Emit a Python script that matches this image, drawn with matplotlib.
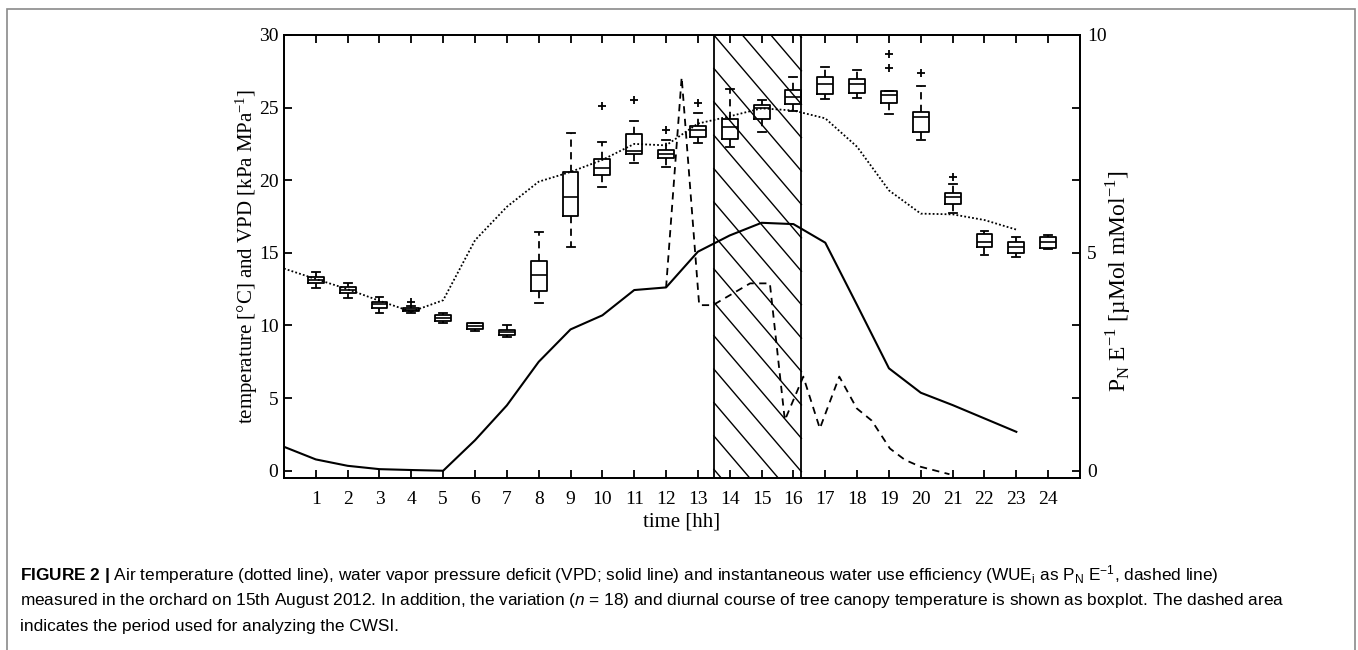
import numpy as np
import matplotlib
matplotlib.use("Agg")
import matplotlib.pyplot as plt
from matplotlib.patches import Rectangle

plt.rcParams["font.family"] = "Liberation Serif"
plt.rcParams["mathtext.fontset"] = "custom"
plt.rcParams["mathtext.rm"] = "Liberation Serif"
plt.rcParams["mathtext.sf"] = "Liberation Sans"
plt.rcParams["mathtext.bf"] = "Liberation Sans:bold"
plt.rcParams["mathtext.it"] = "Liberation Sans:italic"

# hourly air temperature (dotted) and VPD (solid), left axis
hours = np.arange(0, 24)
air_temp = [13.92, 13.2, 12.5, 11.7, 10.95, 11.74, 15.87, 18.17, 19.9, 20.57, 21.4, 22.5,
            22.4, 23.9, 24.4, 24.95, 24.8, 24.26, 22.3, 19.3, 17.7, 17.65, 17.26, 16.6]
vpd = [1.65, 0.78, 0.34, 0.11, 0.05, 0.0, 2.1, 4.5, 7.5, 9.73, 10.7, 12.44,
       12.62, 15.08, 16.2, 17.07, 16.98, 15.7, 11.4, 7.05, 5.37, 4.52, 3.6, 2.68]

# WUE_i (dashed), right axis
wue_time = [12.0, 12.49, 13.04, 13.47, 14.64, 15.26, 15.73, 16.31, 16.83, 17.44,
            17.99, 18.46, 19.03, 19.5, 20.0, 20.9]
wue = [4.2, 9.03, 3.8, 3.8, 4.3, 4.3, 1.16, 2.16, 0.97, 2.16,
       1.43, 1.15, 0.51, 0.25, 0.09, -0.08]

# canopy temperature boxplots (n = 18), hour 1..24
box_hours = np.arange(1, 25)
box_q1 = [12.94, 12.21, 11.18, 11.0, 10.33, 9.73, 9.34, 12.37, 17.53, 20.36, 21.78, 21.55,
          22.96, 22.84, 24.2, 25.25, 25.92, 25.98, 25.34, 23.34, 18.36, 15.38, 14.96, 15.31]
box_med = [13.15, 12.45, 11.45, 11.1, 10.5, 9.95, 9.55, 13.47, 18.86, 20.86, 22.03, 21.8,
           23.46, 23.64, 24.95, 25.75, 26.6, 26.62, 25.87, 24.33, 18.87, 15.77, 15.38, 15.77]
box_q3 = [13.35, 12.62, 11.63, 11.2, 10.72, 10.14, 9.68, 14.46, 20.54, 21.44, 23.2, 22.05,
          23.73, 24.2, 25.2, 26.2, 27.13, 26.95, 26.14, 24.72, 19.1, 16.3, 15.77, 16.07]
box_lo = [12.6, 11.9, 10.85, 10.85, 10.18, 9.62, 9.18, 11.57, 15.42, 19.55, 21.2, 20.93,
          22.58, 22.27, 23.34, 24.79, 25.57, 25.64, 24.56, 22.77, 17.72, 14.85, 14.69, 15.24]
box_hi = [13.7, 12.94, 11.97, 11.35, 10.87, 10.2, 10.03, 16.45, 23.23, 22.65, 24.1, 22.76,
          24.65, 26.26, 25.5, 27.08, 27.8, 27.59, 26.14, 26.51, 19.72, 16.5, 16.1, 16.23]
box_fliers = [[], [], [], [11.63], [], [], [], [], [], [25.1], [25.5], [23.46],
              [25.3], [], [], [], [], [], [28.69, 27.7], [27.41], [20.24], [], [], []]

cwsi_period = (13.5, 16.25)

fig = plt.figure(figsize=(13.58, 6.5), dpi=100)
ax = fig.add_axes([0.2091, 0.2646, 0.5862, 0.6816])

# hatched CWSI period
ax.axvline(cwsi_period[0], color="k", lw=1.3, zorder=2)
ax.axvline(cwsi_period[1], color="k", lw=1.3, zorder=2)
band_x = np.array(cwsi_period)
for k in range(-12, 5):
    c = 27.7 + 2.3 * k
    ax.plot(band_x, c - 2.57 * (band_x - cwsi_period[0]), color="k", lw=1.0, zorder=1)

ax.plot(hours, air_temp, color="k", lw=1.3, linestyle=(0, (1, 1.2)), zorder=3)
ax.plot(hours, vpd, color="k", lw=1.5, zorder=3)

stats = []
for i in range(len(box_hours)):
    stats.append(dict(q1=box_q1[i], med=box_med[i], q3=box_q3[i],
                      whislo=box_lo[i], whishi=box_hi[i], fliers=box_fliers[i]))
ax.bxp(stats, positions=box_hours, widths=0.5, manage_ticks=False,
       boxprops=dict(color="k", lw=1.3),
       medianprops=dict(color="k", lw=1.2),
       whiskerprops=dict(color="k", lw=1.3, linestyle=(0, (4, 3))),
       capprops=dict(color="k", lw=1.3),
       flierprops=dict(marker="+", markeredgecolor="k", markersize=6, markeredgewidth=1.3),
       zorder=4)

ax.set_xlim(0, 25)
ax.set_ylim(-0.5, 30)
ax.set_xticks(range(1, 25))
ax.set_yticks(range(0, 31, 5))
ax.tick_params(direction="in", length=6, width=1.3, labelsize=14, top=True)
ax.tick_params(axis="x", pad=9)
ax.tick_params(axis="y", pad=4)
for s in ax.spines.values():
    s.set_linewidth(1.3)

ax.set_xlabel("time [hh]", fontsize=15)
ax.xaxis.set_label_coords(0.5, -0.10)
ax.xaxis.label.set_va("center")
ax.set_ylabel("temperature [°C] and VPD [kPa MPa$^{-1}$]", fontsize=15)
ax.yaxis.set_label_coords(-0.047, 0.5)
ax.yaxis.label.set_va("center")

ax2 = ax.twinx()
ax2.plot(wue_time, wue, color="k", lw=1.3, linestyle=(0, (4, 3)), zorder=3)
ax2.set_ylim(-0.5 / 3, 10)
ax2.set_yticks(np.arange(0, 31, 5) / 3)
ax2.set_yticklabels(["0", "", "", "5", "", "", "10"])
ax2.tick_params(direction="in", length=6, width=1.3, labelsize=14, pad=5)
ax2.set_ylabel(r"P$_\mathrm{N}$ E$^{-1}$ [µMol mMol$^{-1}$]", fontsize=17, rotation=90)
ax2.yaxis.set_label_coords(1.048, 0.445)
ax2.yaxis.label.set_va("center")
for s in ax2.spines.values():
    s.set_linewidth(1.3)

# caption and page frame
fig.patches.append(Rectangle((7 / 1358, -0.02), 1348 / 1358, 1 - 9 / 650 + 0.02,
                             transform=fig.transFigure, fill=False,
                             edgecolor="#8a8a8a", lw=1.2))
cap_font = dict(family="Liberation Sans", fontsize=12.4, va="center", ha="left")
fig.text(20 / 1358, 1 - 575 / 650,
         r"$\mathbf{FIGURE\ 2\ |}$ Air temperature (dotted line), water vapor pressure deficit "
         r"(VPD; solid line) and instantaneous water use efficiency (WUE$_\mathsf{i}$ as "
         r"P$_\mathsf{N}$ E$^{\mathsf{-1}}$, dashed line)", **cap_font)
fig.text(20 / 1358, 1 - 601 / 650,
         r"measured in the orchard on 15th August 2012. In addition, the variation "
         r"($\mathit{n}$ = 18) and diurnal course of tree canopy temperature is shown as "
         r"boxplot. The dashed area", **cap_font)
fig.text(20 / 1358, 1 - 626 / 650,
         "indicates the period used for analyzing the CWSI.", **cap_font)

fig.savefig("out.png", dpi=100)
